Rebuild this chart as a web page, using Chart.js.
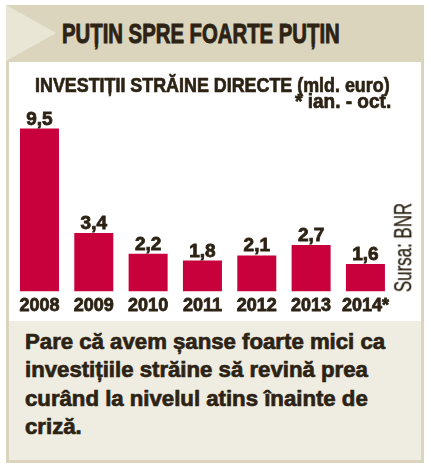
<!DOCTYPE html>
<html>
<head>
<meta charset="utf-8">
<script src="https://cdn.jsdelivr.net/npm/chart.js@4.4.1/dist/chart.umd.min.js"></script>
<style>
  html, body { margin: 0; padding: 0; background: #ffffff; }
  body { width: 431px; height: 470px; position: relative; overflow: hidden;
         font-family: 'Liberation Sans', Arial, sans-serif; color: #2d2314; }
  .abs { position: absolute; }
  #frame { left: 6px; top: 5px; width: 418px; height: 458px; background: #dbd5be; }
  #chevron { left: 6px; top: 5px; width: 50px; height: 56px; background: #e9e6d6;
             clip-path: polygon(0 0, 100% 50%, 0 100%); }
  #panel { left: 9px; top: 62px; width: 412px; height: 259px; background: #ffffff; }
  #note { left: 9px; top: 321px; width: 412px; height: 139px; background: #efede2; }
  .fit { white-space: nowrap; display: inline-block; transform-origin: 0 0; font-weight: bold;
         -webkit-text-stroke: 0.7px #2d2314; }
  #title { left: 62px; top: 20px; font-size: 28px; line-height: 28px; -webkit-text-stroke: 1px #2d2314; }
  #sub { left: 35px; top: 73.5px; font-size: 21px; line-height: 21px; }
  #period { left: 295px; top: 90px; font-size: 21px; line-height: 21px; }
  #text { left: 25px; top: 328px; font-size: 22px; line-height: 28.3px; }
  #source { left: 403px; top: 247px; font-size: 23px; line-height: 23px; white-space: nowrap;
            transform-origin: 50% 50%; -webkit-text-stroke: 0.3px #2d2314; }
  #chartBox { left: 9px; top: 62px; width: 412px; height: 259px; }
</style>
</head>
<body>
<div id="frame" class="abs"></div>
<div id="chevron" class="abs"></div>
<div id="panel" class="abs"></div>
<div id="note" class="abs"></div>
<div id="chartBox" class="abs"><canvas id="myChart"></canvas></div>

<div id="title" class="abs fit" data-w="278">PUȚIN SPRE FOARTE PUȚIN</div>
<div id="sub" class="abs fit" data-w="355">INVESTIȚII STRĂINE DIRECTE (mld. euro)</div>
<div id="period" class="abs fit" data-w="96">* ian. - oct.</div>
<div id="text" class="abs fit" data-w="360">Pare că avem șanse foarte mici ca<br>investițiile străine să revină prea<br>curând la nivelul atins înainte de<br>criză.</div>
<div id="source" class="abs">Sursa: BNR</div>

<script>
// date: investitii straine directe, mld. euro
var years = ['2008', '2009', '2010', '2011', '2012', '2013', '2014*'];
var values = [9.5, 3.4, 2.2, 1.8, 2.1, 2.7, 1.6];

// squeeze the header texts to the width of the condensed font in the original
function fitTexts() {
    var list = document.querySelectorAll('.fit');
    for (var i = 0; i < list.length; i++) {
        var el = list[i];
        var k = parseFloat(el.getAttribute('data-w')) / el.offsetWidth;
        el.style.transform = 'scaleX(' + k + ')';
    }
    var src = document.getElementById('source');
    var w = src.offsetWidth, h = src.offsetHeight;
    var ks = 89 / w;
    src.style.left = (403 - w / 2) + 'px';
    src.style.top = (247 - h / 2) + 'px';
    src.style.transform = 'rotate(-90deg) scaleX(' + ks + ')';
}

// value on top of each bar, with comma as decimal sign
var valueLabels = {
    id: 'valueLabels',
    afterDatasetsDraw: function (chart) {
        var ctx = chart.ctx;
        var meta = chart.getDatasetMeta(0);
        ctx.save();
        ctx.font = 'bold 19px "Liberation Sans", Arial, sans-serif';
        ctx.fillStyle = '#2d2314';
        ctx.strokeStyle = '#2d2314';
        ctx.lineWidth = 0.8;
        ctx.textAlign = 'center';
        ctx.textBaseline = 'alphabetic';
        for (var i = 0; i < meta.data.length; i++) {
            var bar = meta.data[i];
            var txt = values[i].toFixed(1).replace('.', ',');
            ctx.fillText(txt, bar.x, bar.y - 4);
            ctx.strokeText(txt, bar.x, bar.y - 4);
        }
        ctx.restore();
    }
};

fitTexts();

new Chart('myChart', {
    type: 'bar',
    data: {
        labels: years,
        datasets: [{
            data: values,
            backgroundColor: '#c8003c',
            borderWidth: 0,
            categoryPercentage: 1,
            barPercentage: 0.718
        }]
    },
    options: {
        responsive: true,
        maintainAspectRatio: false,
        animation: false,
        layout: { padding: { top: 58, left: 3.3, right: 28.4, bottom: 0 } },
        plugins: {
            legend: { display: false },
            tooltip: { enabled: false }
        },
        scales: {
            x: {
                grid: { display: false, drawTicks: false },
                border: { display: false },
                ticks: {
                    padding: 4,
                    color: '#2d2314',
                    textStrokeColor: '#2d2314',
                    textStrokeWidth: 0.8,
                    font: { family: '"Liberation Sans", Arial, sans-serif', size: 18, weight: 'bold' }
                }
            },
            y: {
                display: false,
                min: 0,
                max: 10
            }
        }
    },
    plugins: [valueLabels]
});
</script>
</body>
</html>
